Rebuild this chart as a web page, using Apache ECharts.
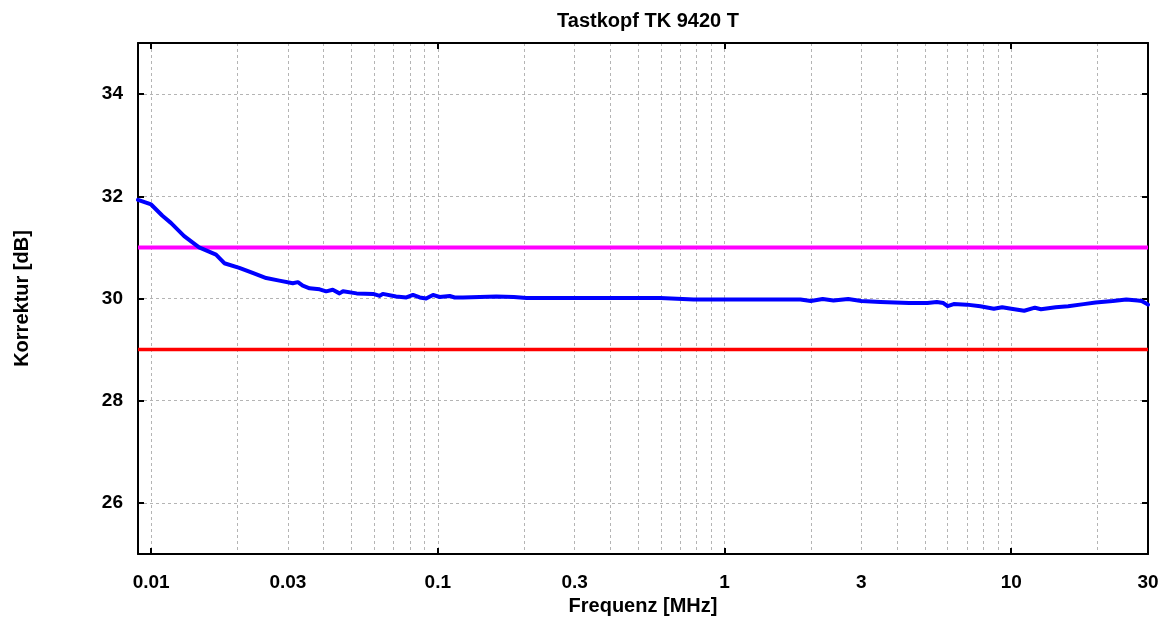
<!DOCTYPE html>
<html>
<head>
<meta charset="utf-8">
<script src="https://cdn.jsdelivr.net/npm/echarts@6/dist/echarts.min.js"></script>
<style>
html,body{margin:0;padding:0;background:#fff;}
#chart{width:1166px;height:619px;}
</style>
</head>
<body>
<div id="chart"></div>
<script>
// ---- data (frequency in MHz, correction in dB) ----
const freqMHz = [0.009, 0.01, 0.01095, 0.01172, 0.01304, 0.0147, 0.01684, 0.018, 0.0203, 0.0226, 0.0252, 0.028,
  0.0312, 0.0325, 0.0338, 0.0357, 0.0387, 0.0408, 0.043, 0.0454, 0.0467, 0.0521, 0.0595, 0.0627, 0.0643,
  0.0715, 0.0777, 0.0819, 0.0865, 0.091, 0.0962, 0.1015, 0.11, 0.1145, 0.1224, 0.14, 0.16, 0.184, 0.204,
  0.227, 0.3, 0.45, 0.597, 0.78, 1.0, 1.58, 1.84, 2.0, 2.2, 2.4, 2.7, 3.0, 3.5, 4.4, 5.1, 5.5, 5.8, 6.0,
  6.3, 7.0, 7.8, 8.7, 9.3, 10, 11.1, 12.1, 12.7, 14.3, 15.8, 17.9, 19.7, 22.6, 25.2, 27.6, 28.5, 29.8, 30];
const korrektur = [31.93, 31.84, 31.62, 31.48, 31.22, 31.00, 30.86, 30.69, 30.60, 30.50, 30.40, 30.35,
  30.30, 30.32, 30.25, 30.20, 30.18, 30.14, 30.17, 30.10, 30.14, 30.10, 30.09, 30.05, 30.09,
  30.04, 30.02, 30.07, 30.02, 30.00, 30.07, 30.03, 30.05, 30.02, 30.02, 30.03, 30.04, 30.03, 30.01,
  30.01, 30.01, 30.01, 30.01, 29.98, 29.98, 29.98, 29.98, 29.95, 29.99, 29.96, 29.99, 29.95, 29.93, 29.91, 29.91, 29.93, 29.91, 29.85,
  29.89, 29.88, 29.85, 29.80, 29.83, 29.80, 29.76, 29.82, 29.79, 29.83, 29.85, 29.89, 29.92, 29.95, 29.98, 29.96, 29.95, 29.89, 29.88];
const upperLimit = 31;
const lowerLimit = 29;
const xTickValues = [0.01, 0.03, 0.1, 0.3, 1, 3, 10, 30];
const xTickLabels = ['0.01', '0.03', '0.1', '0.3', '1', '3', '10', '30'];
const xDecades = [0.01, 0.1, 1, 10];
const yTickValues = [26, 28, 30, 32, 34];
const xMin = 0.009, xMax = 30, yMin = 25, yMax = 35;
const titleText = 'Tastkopf TK 9420 T';
const xName = 'Frequenz [MHz]';
const yName = 'Korrektur [dB]';

// ---- build ----
const L = Math.log10;
const gridVals = [];
xDecades.forEach(d => { for (let m = 1; m <= 9; m++) { const v = d * m; if (v < xMax) gridVals.push(L(v)); } });
gridVals.push(L(20));
const lineData = freqMHz.map((f, i) => [L(f), korrektur[i]]);
const FONT = 'Liberation Sans, Arial, sans-serif';
const dashed = { show: true, lineStyle: { color: '#b4b4b4', type: [3, 3], width: 1 } };

const chart = echarts.init(document.getElementById('chart'), null, { renderer: 'canvas' });
chart.setOption({
  animation: false,
  backgroundColor: '#fff',
  title: {
    text: titleText, left: 643, top: 6, textAlign: 'center',
    textStyle: { fontFamily: FONT, fontWeight: 'bold', fontSize: 20, color: '#000' }
  },
  grid: { left: 138, right: 18, top: 43, bottom: 65, containLabel: false, outerBoundsMode: 'none' },
  xAxis: [
    {
      type: 'value', position: 'bottom', min: L(xMin), max: L(xMax),
      name: xName, nameLocation: 'middle', nameGap: 41,
      nameTextStyle: { fontFamily: FONT, fontWeight: 'bold', fontSize: 20, color: '#000' },
      axisLine: { show: true, onZero: false, lineStyle: { color: '#000', width: 2 } },
      axisTick: { show: true, inside: true, length: 6, customValues: xDecades.map(L), lineStyle: { color: '#000', width: 2 } },
      axisLabel: {
        show: true, margin: 19, customValues: xTickValues.map(L),
        fontFamily: FONT, fontWeight: 'bold', fontSize: 19, color: '#000',
        formatter: v => { let best = 0; xTickValues.forEach((t, i) => { if (Math.abs(L(t) - v) < Math.abs(L(xTickValues[best]) - v)) best = i; }); return xTickLabels[best]; }
      },
      splitLine: { show: false }
    },
    {
      type: 'value', position: 'top', min: L(xMin), max: L(xMax),
      axisLine: { show: true, onZero: false, lineStyle: { color: '#000', width: 2 } },
      axisTick: { show: true, inside: true, length: 6, customValues: xDecades.map(L), lineStyle: { color: '#000', width: 2 } },
      axisLabel: { show: false },
      splitLine: { show: false }
    },
    {
      type: 'value', position: 'bottom', min: L(xMin), max: L(xMax),
      axisLine: { show: false, onZero: false },
      axisTick: { show: false, customValues: gridVals },
      axisLabel: { show: false },
      splitLine: dashed
    }
  ],
  yAxis: [
    {
      type: 'value', position: 'left', min: yMin, max: yMax,
      name: yName, nameLocation: 'middle', nameGap: 106, nameRotate: 90,
      nameTextStyle: { fontFamily: FONT, fontWeight: 'bold', fontSize: 20, color: '#000' },
      axisLine: { show: true, onZero: false, lineStyle: { color: '#000', width: 2 } },
      axisTick: { show: true, inside: true, length: 6, customValues: yTickValues, lineStyle: { color: '#000', width: 2 } },
      axisLabel: { show: true, margin: 15, customValues: yTickValues, fontFamily: FONT, fontWeight: 'bold', fontSize: 19, color: '#000' },
      splitLine: dashed
    },
    {
      type: 'value', position: 'right', min: yMin, max: yMax,
      axisLine: { show: true, onZero: false, lineStyle: { color: '#000', width: 2 } },
      axisTick: { show: true, inside: true, length: 6, customValues: yTickValues, lineStyle: { color: '#000', width: 2 } },
      axisLabel: { show: false },
      splitLine: { show: false }
    }
  ],
  series: [
    {
      type: 'line', xAxisIndex: 0, yAxisIndex: 0, symbol: 'none', silent: true,
      data: [[L(xMin), upperLimit], [L(xMax), upperLimit]],
      lineStyle: { color: '#ff00ff', width: 4 }, z: 3
    },
    {
      type: 'line', xAxisIndex: 0, yAxisIndex: 0, symbol: 'none', silent: true,
      data: [[L(xMin), lowerLimit], [L(xMax), lowerLimit]],
      lineStyle: { color: '#ff0000', width: 3.5 }, z: 3
    },
    {
      type: 'line', xAxisIndex: 0, yAxisIndex: 0, symbol: 'none', silent: true,
      data: lineData,
      lineStyle: { color: '#0000ff', width: 4, join: 'round', cap: 'round' }, z: 4
    }
  ]
});
</script>
</body>
</html>
